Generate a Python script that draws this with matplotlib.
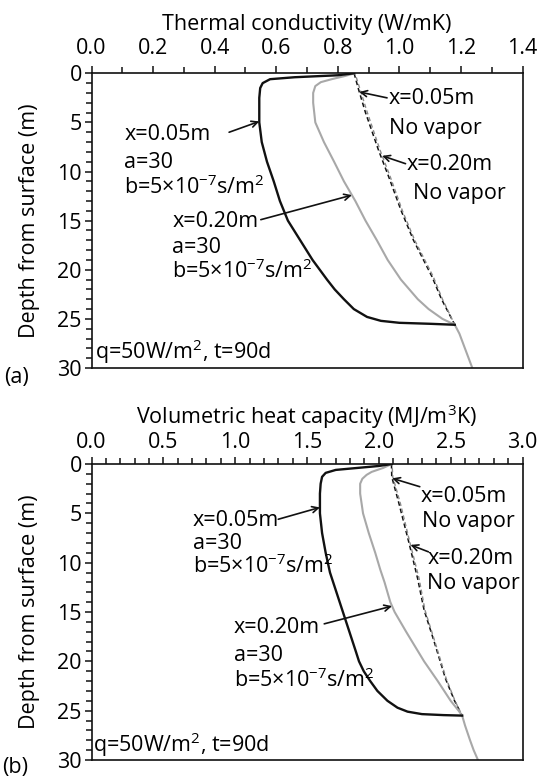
import numpy as np
import matplotlib
matplotlib.use("Agg")
import matplotlib.pyplot as plt
from matplotlib.ticker import MultipleLocator

plt.rcParams["font.family"] = ["Open Sans", "DejaVu Sans"]
plt.rcParams["mathtext.fontset"] = "custom"
plt.rcParams["mathtext.rm"] = "Open Sans"
plt.rcParams["mathtext.it"] = "Open Sans"
plt.rcParams["mathtext.default"] = "regular"

FS = 15.5

# ---- (a) thermal conductivity (W/mK) vs depth (m) ----
depth_a_k005 = [0, 0.2, 0.4, 0.6, 1.0, 1.5, 2.5, 5, 7, 9, 11, 13, 15, 17, 19,
                21, 22, 23, 24, 24.8, 25.2, 25.4, 25.5, 25.6]
k_x005_vap = [0.852, 0.80, 0.66, 0.58, 0.556, 0.548, 0.545, 0.545, 0.553, 0.57,
              0.592, 0.612, 0.638, 0.678, 0.718, 0.765, 0.79, 0.82, 0.852,
              0.895, 0.94, 1.00, 1.10, 1.18]

depth_a_k020 = [0, 0.3, 0.6, 0.9, 1.3, 2, 3, 5, 7, 9, 11, 13, 15, 17, 19, 21,
                23, 24, 25, 25.6, 26.5, 28, 29, 30]
k_x020_vap = [0.855, 0.82, 0.78, 0.745, 0.727, 0.72, 0.72, 0.727, 0.755, 0.788,
              0.82, 0.857, 0.89, 0.927, 0.962, 1.005, 1.06, 1.095, 1.14,
              1.18, 1.195, 1.213, 1.225, 1.237]

depth_a_nov = [0, 1.7, 4, 7.8, 10.5, 14, 17, 20.7, 23, 25.6]
k_x005_novap = [0.853, 0.868, 0.89, 0.932, 0.965, 1.006, 1.046, 1.106, 1.137, 1.18]
k_x020_novap = [0.856, 0.873, 0.896, 0.937, 0.97, 1.01, 1.05, 1.11, 1.14, 1.18]

# ---- (b) volumetric heat capacity (MJ/m3K) vs depth (m) ----
depth_b_c005 = [0, 0.2, 0.4, 0.6, 0.9, 1.3, 2, 3, 5, 7, 9, 11, 13, 15, 17, 19,
                20, 21, 22, 23, 24, 24.7, 25.1, 25.35, 25.45, 25.5]
c_x005_vap = [2.09, 2.0, 1.85, 1.7, 1.63, 1.605, 1.595, 1.59, 1.59, 1.605, 1.63,
              1.66, 1.705, 1.75, 1.795, 1.84, 1.862, 1.895, 1.94, 1.99, 2.06,
              2.13, 2.20, 2.30, 2.45, 2.58]

depth_b_c020 = [0, 0.4, 0.8, 1.1, 1.5, 2, 3, 5, 7, 9, 10.7, 12, 14, 15, 17, 20,
                22, 23, 24, 25, 25.5, 26.5, 28, 29, 30]
c_x020_vap = [2.09, 2.03, 1.95, 1.915, 1.885, 1.87, 1.87, 1.89, 1.93, 1.975,
              2.01, 2.04, 2.08, 2.11, 2.19, 2.315, 2.41, 2.455, 2.50, 2.555,
              2.58, 2.60, 2.635, 2.66, 2.69]

depth_b_nov = [0, 1.3, 4, 8, 11.6, 14.8, 18, 21.8, 24, 25.5]
c_x005_novap = [2.088, 2.09, 2.14, 2.21, 2.27, 2.315, 2.385, 2.465, 2.527, 2.58]
c_x020_novap = [2.092, 2.097, 2.15, 2.217, 2.28, 2.321, 2.39, 2.47, 2.53, 2.58]

BLACK = "#111111"
GRAY = "#a8a8a8"
DGRAY = "#8a8a8a"

fig = plt.figure(figsize=(5.4, 7.82), dpi=100)
ax_a = fig.add_axes([91.5 / 540, 1 - 368 / 782, 431 / 540, (368 - 73.3) / 782])
ax_b = fig.add_axes([91.5 / 540, 1 - 760 / 782, 431 / 540, (760 - 464) / 782])


def style_axis(ax, xmax, xmajor, xminor, xlabel, xpad, lpad):
    ax.set_xlim(0, xmax)
    ax.set_ylim(30, 0)
    ax.xaxis.set_major_locator(MultipleLocator(xmajor))
    ax.xaxis.set_minor_locator(MultipleLocator(xminor))
    ax.yaxis.set_major_locator(MultipleLocator(5))
    ax.yaxis.set_minor_locator(MultipleLocator(1))
    ax.xaxis.set_major_formatter(plt.FuncFormatter(lambda v, p: f"{v:.1f}"))
    ax.xaxis.tick_top()
    ax.xaxis.set_label_position("top")
    ax.tick_params(which="both", direction="out", top=True, bottom=False,
                   left=True, right=False, width=1.1, color=BLACK,
                   labelsize=FS, pad=2)
    ax.tick_params(axis="x", which="major", pad=xpad)
    ax.tick_params(which="major", length=5)
    ax.tick_params(which="minor", length=4)
    ax.set_xlabel(xlabel, fontsize=FS, labelpad=lpad)
    ax.set_ylabel("Depth from surface (m)", fontsize=FS, labelpad=12)
    for s in ax.spines.values():
        s.set_linewidth(1.2)
        s.set_color(BLACK)


def arrow(ax, tail, depth, xs, ds):
    head = (np.interp(depth, ds, xs), depth)
    ax.annotate("", xy=head, xytext=tail,
                arrowprops=dict(arrowstyle="->", color=BLACK, lw=1.2,
                                shrinkA=0, shrinkB=0, mutation_scale=11))


bexp = r"b=5×10$^{-7}$s/m$^{2}$"

# ---------------- panel (a) ----------------
ax = ax_a
ax.plot(k_x005_novap, depth_a_nov, color=BLACK, lw=1.1, ls=(0, (3, 2)))
ax.plot(k_x020_novap, depth_a_nov, color=DGRAY, lw=1.0, ls=(2, (3, 2)))
ax.plot(k_x020_vap, depth_a_k020, color=GRAY, lw=1.5)
ax.plot(k_x005_vap, depth_a_k005, color=BLACK, lw=1.7)
style_axis(ax, 1.4, 0.2, 0.1, "Thermal conductivity (W/mK)", 5, 6)

ax.text(0.106, 6.2, "x=0.05m", fontsize=FS, va="center")
ax.text(0.106, 9.1, "a=30", fontsize=FS, va="center")
ax.text(0.106, 11.6, bexp, fontsize=FS, va="center")
arrow(ax, (0.447, 6.0), 4.9, k_x005_vap, depth_a_k005)

ax.text(0.262, 15.1, "x=0.20m", fontsize=FS, va="center")
ax.text(0.262, 17.7, "a=30", fontsize=FS, va="center")
ax.text(0.262, 20.1, bexp, fontsize=FS, va="center")
arrow(ax, (0.55, 14.9), 12.4, k_x020_vap, depth_a_k020)

ax.text(0.965, 2.6, "x=0.05m", fontsize=FS, va="center")
ax.text(0.965, 5.6, "No vapor", fontsize=FS, va="center")
arrow(ax, (0.96, 2.5), 1.9, k_x005_novap, depth_a_nov)

ax.text(1.022, 9.3, "x=0.20m", fontsize=FS, va="center")
ax.text(1.044, 12.2, "No vapor", fontsize=FS, va="center")
arrow(ax, (1.02, 9.2), 8.4, k_x020_novap, depth_a_nov)

ax.text(0.012, 28.3, r"q=50W/m$^{2}$, t=90d", fontsize=FS, va="center")
fig.text(4 / 540, 1 - 378 / 782, "(a)", fontsize=FS, va="center")

# ---------------- panel (b) ----------------
ax = ax_b
ax.plot(c_x005_novap, depth_b_nov, color=BLACK, lw=1.1, ls=(0, (3, 2)))
ax.plot(c_x020_novap, depth_b_nov, color=DGRAY, lw=1.0, ls=(2, (3, 2)))
ax.plot(c_x020_vap, depth_b_c020, color=GRAY, lw=1.5)
ax.plot(c_x005_vap, depth_b_c005, color=BLACK, lw=1.7)
style_axis(ax, 3.0, 0.5, 0.1, "Volumetric heat capacity (MJ/m$^{3}$K)", 3, 6)

ax.text(0.707, 5.7, "x=0.05m", fontsize=FS, va="center")
ax.text(0.707, 8.1, "a=30", fontsize=FS, va="center")
ax.text(0.707, 10.4, bexp, fontsize=FS, va="center")
arrow(ax, (1.30, 5.6), 4.4, c_x005_vap, depth_b_c005)

ax.text(0.99, 16.6, "x=0.20m", fontsize=FS, va="center")
ax.text(0.99, 19.4, "a=30", fontsize=FS, va="center")
ax.text(0.99, 21.9, bexp, fontsize=FS, va="center")
arrow(ax, (1.62, 16.2), 14.4, c_x020_vap, depth_b_c020)

ax.text(2.29, 3.3, "x=0.05m", fontsize=FS, va="center")
ax.text(2.30, 5.8, "No vapor", fontsize=FS, va="center")
arrow(ax, (2.285, 2.3), 1.45, c_x005_novap, depth_b_nov)

ax.text(2.34, 9.6, "x=0.20m", fontsize=FS, va="center")
ax.text(2.335, 12.1, "No vapor", fontsize=FS, va="center")
arrow(ax, (2.345, 8.9), 8.2, c_x020_novap, depth_b_nov)

ax.text(0.012, 28.5, r"q=50W/m$^{2}$, t=90d", fontsize=FS, va="center")
fig.text(2 / 540, 1 - 768 / 782, "(b)", fontsize=FS, va="center")

fig.savefig("out.png", dpi=100)
